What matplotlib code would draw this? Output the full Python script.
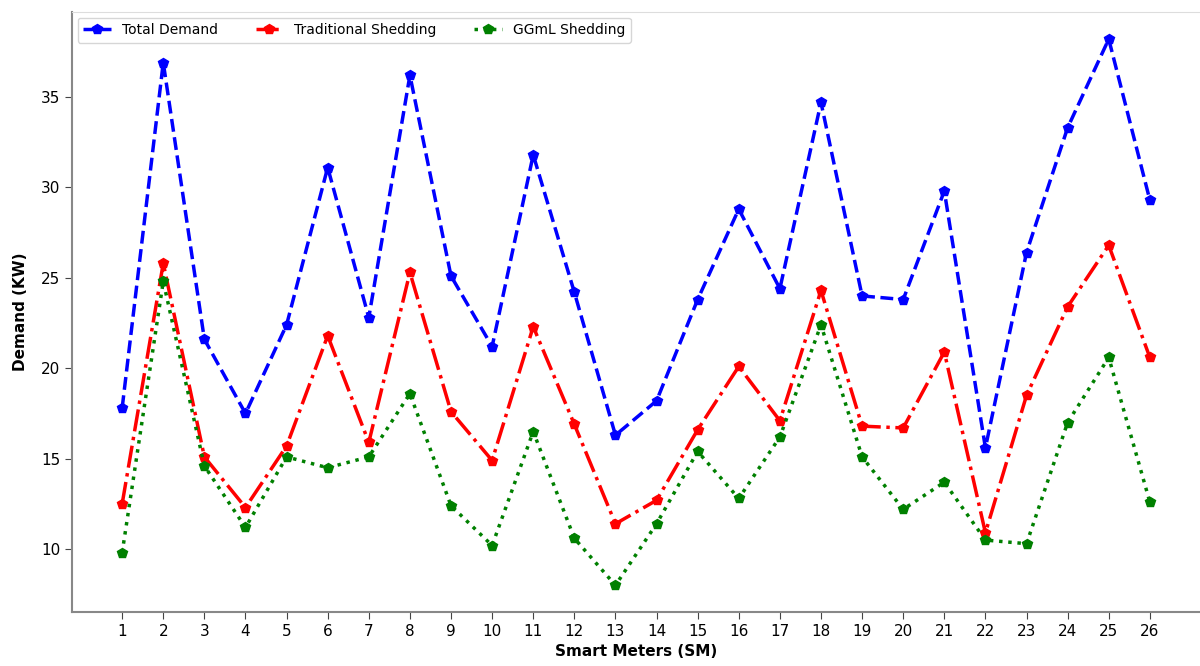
import matplotlib
matplotlib.use("Agg")
import matplotlib.pyplot as plt

meters = list(range(1, 27))
total_demand = [17.8, 36.9, 21.6, 17.5, 22.4, 31.1, 22.8, 36.2, 25.1, 21.2, 31.8, 24.2, 16.3,
                18.2, 23.8, 28.8, 24.4, 34.7, 24.0, 23.8, 29.8, 15.6, 26.4, 33.3, 38.2, 29.3]
traditional = [12.5, 25.8, 15.1, 12.3, 15.7, 21.8, 15.9, 25.3, 17.6, 14.9, 22.3, 16.9, 11.4,
               12.7, 16.6, 20.1, 17.1, 24.3, 16.8, 16.7, 20.9, 10.9, 18.5, 23.4, 26.8, 20.6]
ggml = [9.8, 24.8, 14.6, 11.2, 15.1, 14.5, 15.1, 18.6, 12.4, 10.2, 16.5, 10.6, 8.0,
        11.4, 15.4, 12.8, 16.2, 22.4, 15.1, 12.2, 13.7, 10.5, 10.3, 17.0, 20.6, 12.6]

fig = plt.figure(figsize=(12, 6.66), dpi=100)
ax = fig.add_axes([0.06, 0.081, 0.94, 0.901])

ax.plot(meters, total_demand, color='blue', linestyle='--', marker='p', markersize=7,
        linewidth=2.5, label='Total Demand')
ax.plot(meters, traditional, color='red', linestyle='-.', marker='p', markersize=7,
        linewidth=2.5, label='Traditional Shedding')
ax.plot(meters, ggml, color='green', linestyle=':', marker='p', markersize=7,
        linewidth=2.5, label='GGmL Shedding')

ax.set_xlim(-0.22, 27.22)
ax.set_ylim(6.52, 39.7)
ax.set_xticks(meters)
ax.set_xticklabels([str(m) for m in meters])
ax.set_yticks([10, 15, 20, 25, 30, 35])
ax.tick_params(axis='both', labelsize=11, length=5, color='#444444')

ax.set_xlabel('Smart Meters (SM)', fontsize=11, fontweight='bold')
ax.set_ylabel('Demand (KW)', fontsize=11, fontweight='bold', labelpad=9)

for side in ['left', 'bottom']:
    ax.spines[side].set_color('#888888')
    ax.spines[side].set_linewidth(1.5)
ax.spines['top'].set_color('#dddddd')
ax.spines['right'].set_visible(False)

ax.legend(loc='upper left', ncol=3, fontsize=10, frameon=True, borderaxespad=0.4,
          columnspacing=2.7)

fig.savefig('out.png', dpi=100)
